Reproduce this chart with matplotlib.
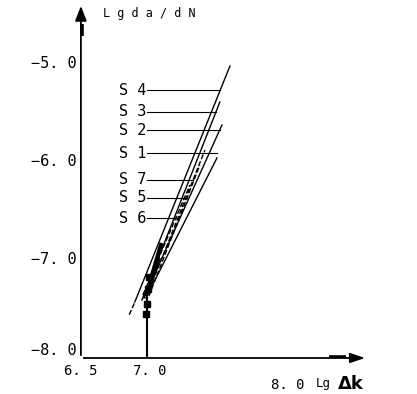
import matplotlib
matplotlib.use("Agg")
import matplotlib.pyplot as plt
import numpy as np

# крайние точки линий S1..S7 (lg dK, lg da/dN)
names = ["S4", "S3", "S2", "S1", "S7", "S5", "S6"]
x_low = [6.891, 6.942, 6.957, 6.971, 6.978, 6.993, 6.949]
y_low = [-7.430, -7.410, -7.390, -7.390, -7.369, -7.369, -7.359]
x_high = [7.580, 7.507, 7.522, 7.486, 7.399, 7.362, 7.290]
y_high = [-5.030, -5.396, -5.630, -5.965, -5.884, -6.037, -6.240]
styles = ["-", "-", "-", "-", "--", "--", "--"]
label_y = [-5.274, -5.497, -5.681, -5.915, -6.189, -6.372, -6.576]

# экспериментальные точки у основания
pts_x = [6.985, 6.990, 6.982, 6.975]
pts_y = [-7.30, -7.18, -7.45, -7.55]

# вертикальная линия lg dK = 7.0
vline_x = 6.98
vline_y = [-8.0, -7.30]

yticks = [-5.0, -6.0, -7.0, -8.0]
ytick_labels = ["−5. 0", "−6. 0", "−7. 0", "−8. 0"]
xticks = [6.5, 7.0, 8.0]
xtick_labels = ["6. 5", "7. 0", "8. 0"]

mono = "DejaVu Sans Mono"

fig = plt.figure(figsize=(4.17, 3.94), dpi=100)
ax = fig.add_axes([0.194, 0.0914, 0.7115, 0.9056])
ax.set_xlim(6.5, 8.65)
ax.set_ylim(-8.0, -4.37)
ax.axis("off")

# оси со стрелками
ax.annotate("", xy=(6.5, -4.39), xytext=(6.5, -8.0),
            arrowprops=dict(arrowstyle="-|>,head_length=0.9,head_width=0.35", color="black", lw=1.3))
ax.plot([6.5, 6.5], [-4.72, -4.6], color="black", lw=4, solid_capstyle="butt")
ax.annotate("", xy=(8.58, -8.0), xytext=(6.5, -8.0),
            arrowprops=dict(arrowstyle="-|>,head_length=0.9,head_width=0.3", color="black", lw=1.3))
ax.plot([8.3, 8.42], [-8.0, -8.0], color="black", lw=4, solid_capstyle="butt")

# подписи делений
for v, s in zip(yticks, ytick_labels):
    ax.text(6.47, v, s, fontsize=11, family=mono, ha="right",
            va="bottom" if v == -8.0 else "center")
for v, s in zip(xticks, xtick_labels):
    ax.text(v, -8.06 if v < 7.5 else -8.2, s, fontsize=10, family=mono,
            ha="center", va="top")

ax.text(6.66, -4.5, "L g d a / d N", fontsize=8.5, family=mono, ha="left", va="center")
ax.text(8.2, -8.26, "Lg", fontsize=9, family=mono, ha="left", va="center")
ax.text(8.36, -8.26, "Δk", fontsize=13, fontweight="bold", ha="left", va="center")

# линии
for i in range(len(names)):
    ax.plot([x_low[i], x_high[i]], [y_low[i], y_high[i]], color="black",
            lw=1.0, linestyle=styles[i])
    # выноска
    xe = np.interp(label_y[i], [y_low[i], y_high[i]], [x_low[i], x_high[i]])
    ax.plot([6.98, xe], [label_y[i], label_y[i]], color="black", lw=0.8)
    ax.text(6.975, label_y[i], names[i][0] + " " + names[i][1], fontsize=11,
            family=mono, ha="right", va="center")

# продолжение S4 вниз
ax.plot([6.85, 6.891], [-7.56, -7.43], color="black", lw=1.0, linestyle="--")

# утолщённый пучок у основания
ax.plot([6.975, 7.08], [-7.35, -6.85], color="black", lw=3)
ax.plot([6.99, 7.06], [-7.30, -7.00], color="black", lw=3)
ax.plot([vline_x, vline_x], vline_y, color="black", lw=1.5)
ax.plot(pts_x, pts_y, "s", color="black", ms=4)

fig.savefig("out.png", dpi=100)
